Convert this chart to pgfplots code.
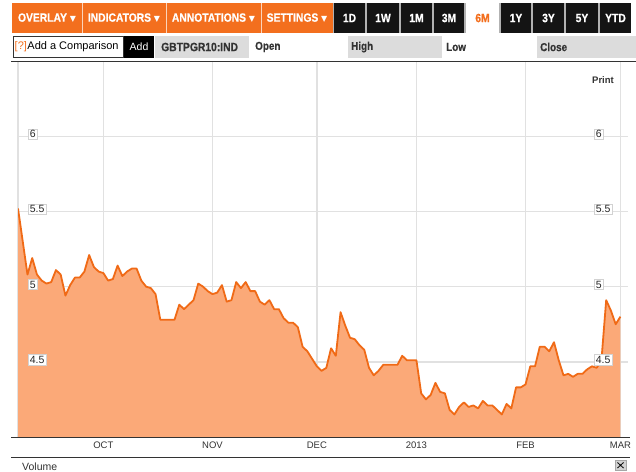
\documentclass[border=0pt]{standalone}
\usepackage{pgfplots}
\pgfplotsset{compat=1.18}
\usepackage{pgfplotstable}
\usepackage{fontspec}
\setmainfont{Liberation Sans}
\newfontfamily\dejavu{DejaVu Sans}
\newfontfamily\narrowbold[FakeStretch=0.86,FakeBold=0.5]{Liberation Sans Bold}
\definecolor{bbor}{HTML}{F36F1E}
\definecolor{linec}{HTML}{F06A16}
\definecolor{fillc}{HTML}{FBA978}
\definecolor{gridc}{HTML}{E1E1E1}
\definecolor{boxg}{HTML}{DCDCDC}
\definecolor{txt}{HTML}{333333}
\newcommand{\dn}{{\dejavu\fontsize{8bp}{8bp}\selectfont ▼}}
\newcommand{\tb}{\narrowbold\fontsize{12bp}{13bp}\selectfont}
\newcommand{\rb}{\narrowbold\fontsize{11.5bp}{13bp}\selectfont}

\pgfplotstableread{
idx val
0 5.52
1 5.30
2 5.08
3 5.19
4 5.08
5 5.04
6 5.02
7 5.03
8 5.11
9 5.08
10 4.94
11 5.01
12 5.06
13 5.06
14 5.10
15 5.21
16 5.13
17 5.10
18 5.09
19 5.04
20 5.05
21 5.14
22 5.07
23 5.10
24 5.12
25 5.12
26 5.04
27 5.00
28 4.99
29 4.95
30 4.78
31 4.78
32 4.78
33 4.78
34 4.88
35 4.85
36 4.88
37 4.91
38 5.02
39 5.00
40 4.97
41 4.95
42 4.96
43 5.01
44 4.90
45 4.91
46 5.03
47 4.99
48 5.03
49 4.97
50 4.97
51 4.90
52 4.88
53 4.91
54 4.85
55 4.85
56 4.79
57 4.76
58 4.76
59 4.73
60 4.60
61 4.57
62 4.52
63 4.47
64 4.44
65 4.46
66 4.59
67 4.54
68 4.83
69 4.74
70 4.66
71 4.65
72 4.61
73 4.58
74 4.46
75 4.41
76 4.44
77 4.48
78 4.48
79 4.48
80 4.48
81 4.54
82 4.51
83 4.51
84 4.51
85 4.29
86 4.25
87 4.28
88 4.36
89 4.30
90 4.29
91 4.18
92 4.15
93 4.20
94 4.23
95 4.20
96 4.21
97 4.19
98 4.24
99 4.21
100 4.21
101 4.18
102 4.15
103 4.22
104 4.19
105 4.33
106 4.33
107 4.35
108 4.47
109 4.47
110 4.60
111 4.60
112 4.57
113 4.63
114 4.51
115 4.41
116 4.42
117 4.40
118 4.42
119 4.42
120 4.45
121 4.47
122 4.46
123 4.51
124 4.91
125 4.84
126 4.75
127 4.80
}\yields

\pgfplotsset{
  chartframe/.style={
    at={(18bp,-437bp)}, anchor=south west,
    width=610bp, height=376bp, scale only axis,
    xmin=0, xmax=128.6, ymin=4, ymax=6.5,
    axis line style={draw=none}, tick style={draw=none},
  },
  ylab/.style={
    xtick=\empty,
    ytick={4.5,5,5.5,6}, yticklabels={4.5,5,5.5,6},
    yticklabel style={anchor=west, yshift=2bp, fill=white, draw=gray!35,
      line width=0.6bp, inner sep=1.5bp, text=black!85,
      font=\fontsize{10.5bp}{12bp}\selectfont},
  },
}

\begin{document}
\begin{tikzpicture}
\useasboundingbox (0,0) rectangle (636bp,-472bp);
\fill[white] (0,0) rectangle (636bp,-472bp);

\begin{axis}[chartframe,
  xtick={0,18,41,63,84,107,127},
  xticklabels={,OCT,NOV,DEC,2013,FEB,MAR},
  ytick={4.5,5,5.5,6}, yticklabels={},
  grid=major,
  major grid style={draw=gridc, line width=1.4bp},
  xticklabel style={font=\fontsize{9.5bp}{11bp}\selectfont, text=txt, yshift=-1bp},
]
\addplot[draw=none, fill=fillc] table[x=idx, y=val] {\yields} \closedcycle;
\addplot[linec, line width=1.8bp, line join=round, mark=none] table[x=idx, y=val] {\yields};
\end{axis}

\begin{axis}[chartframe, ylab, yticklabel style={xshift=10bp}]
\end{axis}
\begin{axis}[chartframe, ylab, yticklabel style={xshift=576bp}]
\end{axis}

\begin{scope}[x=1bp, y=-1bp]
% toolbar row 1
\fill[bbor] (12,3) rectangle (333,33);
\foreach \xx in {82,166,261} \draw[white!70!bbor, line width=1bp] (\xx,3) -- (\xx,33);
\node[white, font=\tb] at (47,18) {OVERLAY \dn};
\node[white, font=\tb] at (124,18) {INDICATORS \dn};
\node[white, font=\tb] at (213.5,18) {ANNOTATIONS \dn};
\node[white, font=\tb] at (297,18) {SETTINGS \dn};
\fill[gray!60] (333,3) rectangle (631,33);
\foreach \a/\b/\t in {334/365/1D, 367/399/1W, 401/432/1M, 434/464/3M, 501/531/1Y, 533/564/3Y, 566/598/5Y, 600/631/YTD} {
  \fill[black!92] (\a,3) rectangle (\b,33);
  \node[white, font=\tb] at ({(\a+\b)/2},18) {\t};
}
\fill[white] (466,3) rectangle (499,33);
\node[bbor, font=\tb] at (482.5,18) {6M};

% toolbar row 2
\draw[txt, fill=white, line width=1bp] (13,36.5) rectangle (123,57);
\node[anchor=west, inner sep=0, font=\fontsize{11bp}{12bp}\selectfont] at (14.5,47) {\textcolor{bbor}{[?]}\kern0.5bp Add a Comparison};
\fill[black] (124,36) rectangle (154,57.5);
\node[white, font=\fontsize{10.5bp}{12bp}\selectfont] at (139,47) {Add};
\fill[boxg] (155,36) rectangle (249,57.5);
\node[anchor=west, inner sep=0, txt, font=\narrowbold\fontsize{12bp}{13bp}\selectfont] at (161,47) {GBTPGR10:IND};
\node[anchor=west, inner sep=0, txt, font=\rb] at (255,47) {Open};
\fill[boxg] (348,36) rectangle (442,57.5);
\node[anchor=west, inner sep=0, txt, font=\rb] at (351,47) {High};
\node[anchor=west, inner sep=0, txt, font=\rb] at (446,47) {Low};
\fill[boxg] (537,36) rectangle (636,57.5);
\node[anchor=west, inner sep=0, txt, font=\rb] at (540,47) {Close};

% frame lines
\draw[txt, line width=1bp] (11,61) -- (636,61);
\draw[txt, line width=1bp] (11,437) -- (630,437);
\draw[txt, line width=1bp] (11,457) -- (630,457);
\node[anchor=west, inner sep=0, font=\bfseries\fontsize{9.5bp}{11bp}\selectfont, txt] at (592,80.5) {Print};
\node[anchor=west, inner sep=0, font=\fontsize{10.5bp}{12bp}\selectfont, txt] at (22,467) {Volume};
\draw[gray!70, fill=gray!35, line width=0.6bp] (615,460) rectangle (626,470.5);
\draw[black, line width=0.8bp] (617.5,462.5) -- (623.5,468) (623.5,462.5) -- (617.5,468);
\end{scope}
\end{tikzpicture}
\end{document}
